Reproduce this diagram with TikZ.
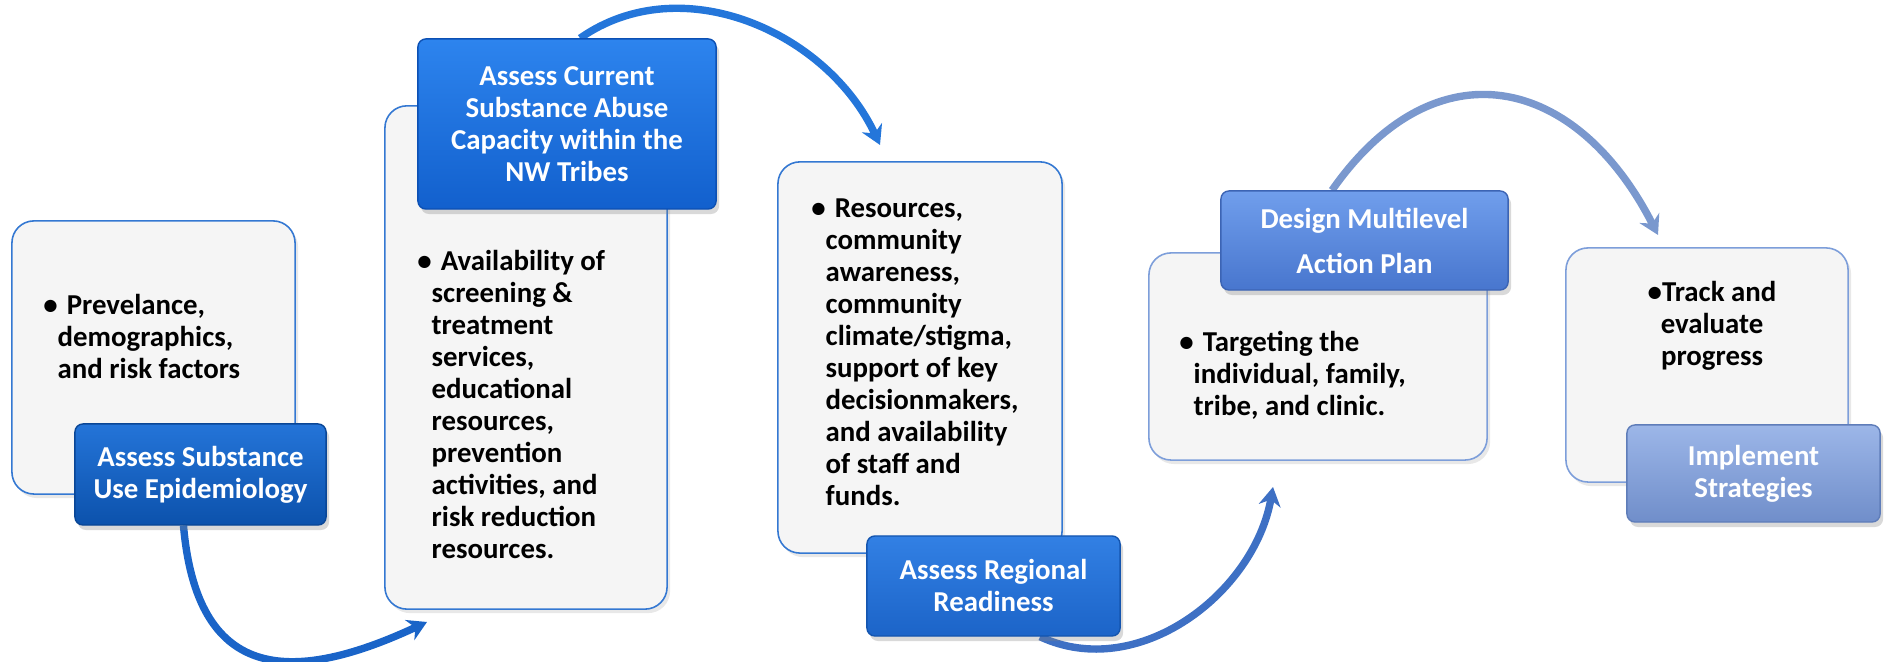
\documentclass[tikz,border=0pt]{standalone}
\usepackage{fontspec}
\setmainfont{Carlito}
\usepackage{tikz}
\usepackage{xcolor}
\usetikzlibrary{arrows.meta,shadows,backgrounds}

\definecolor{cardfill}{RGB}{245,245,245}
\definecolor{cardrim}{RGB}{52,120,210}
\definecolor{cardrimlt}{RGB}{125,158,218}
\definecolor{tagtopA}{RGB}{36,116,216}
\definecolor{tagbotA}{RGB}{12,82,172}
\definecolor{tagrimA}{RGB}{10,70,150}
\definecolor{tagtopB}{RGB}{45,132,238}
\definecolor{tagbotB}{RGB}{18,96,205}
\definecolor{tagrimB}{RGB}{12,80,180}
\definecolor{tagtopC}{RGB}{50,128,228}
\definecolor{tagbotC}{RGB}{28,100,200}
\definecolor{tagrimC}{RGB}{20,85,175}
\definecolor{tagtopD}{RGB}{112,158,236}
\definecolor{tagbotD}{RGB}{72,118,206}
\definecolor{tagrimD}{RGB}{60,100,180}
\definecolor{tagtopE}{RGB}{156,182,232}
\definecolor{tagbotE}{RGB}{112,142,202}
\definecolor{tagrimE}{RGB}{95,125,185}
\definecolor{arrowA}{RGB}{26,100,200}
\definecolor{arrowB}{RGB}{36,118,218}
\definecolor{arrowC}{RGB}{62,112,196}
\definecolor{arrowD}{RGB}{122,152,206}

\newcommand{\bul}{\llap{\textbullet}\kern2.6pt}

\begin{document}
\begin{tikzpicture}[x=0.01cm,y=0.01cm,
    card/.style={draw=cardrim,line width=0.45pt,fill=cardfill,rounded corners=0.22cm,
      drop shadow={opacity=0.18,shadow xshift=0.03cm,shadow yshift=-0.04cm}},
    tag/.style={rounded corners=0.08cm,line width=0.4pt,text=white,align=center,
      font=\fontsize{8.2}{9.1}\selectfont\bfseries,
      drop shadow={opacity=0.3,shadow xshift=0.03cm,shadow yshift=-0.05cm}},
    blurb/.style={inner sep=0pt,align=left,font=\fontsize{8.2}{9.1}\selectfont\bfseries},
    flow/.style={line width=2.1pt,-{Stealth[length=0.19cm,width=0.22cm]}}]
    \useasboundingbox (0,0) rectangle (1885,662);

    % Cards
    \node[card,minimum width=2.83cm,minimum height=2.73cm] (c1) at (153.5,304.5) {};
    \node[card,minimum width=2.82cm,minimum height=5.03cm] (c2) at (526,304.5) {};
    \node[card,minimum width=2.84cm,minimum height=3.91cm] (c3) at (920,304.5) {};
    \node[card,draw=cardrimlt,minimum width=3.38cm,minimum height=2.07cm] (c4) at (1318,305.5) {};
    \node[card,draw=cardrimlt,minimum width=2.82cm,minimum height=2.34cm] (c5) at (1707,297) {};

    % Card texts
    \node[blurb,anchor=north west] (t1) at (57,368)
        {\bul Prevelance,\\demographics,\\and risk factors};
    \node[blurb,anchor=north west] (t2) at (431,412)
        {\bul Availability of\\screening \&\\treatment\\services,\\educational\\resources,\\prevention\\activities, and\\risk reduction\\resources.};
    \node[blurb,anchor=north west] (t3) at (825,464)
        {\bul Resources,\\community\\awareness,\\community\\climate/stigma,\\support of key\\decisionmakers,\\and availability\\of staff and\\funds.};
    \node[blurb,anchor=north west] (t4) at (1193,331)
        {\bul Targeting the\\individual, family,\\tribe, and clinic.};
    \node[blurb,anchor=north,align=center] (t5) at (1712,381)
        {\textbullet Track and\\evaluate\\progress};

    % Step labels
    \node[tag,top color=tagtopA,bottom color=tagbotA,draw=tagrimA,
        minimum width=2.51cm,minimum height=1.01cm] (l1) at (200.5,187.5)
        {Assess Substance\\Use Epidemiology};
    \node[tag,top color=tagtopB,bottom color=tagbotB,draw=tagrimB,
        minimum width=2.98cm,minimum height=1.70cm] (l2) at (567,538)
        {Assess Current\\Substance Abuse\\Capacity within the\\NW Tribes};
    \node[tag,top color=tagtopC,bottom color=tagbotC,draw=tagrimC,
        minimum width=2.53cm,minimum height=1.00cm] (l3) at (993.5,76)
        {Assess Regional\\Readiness};
    \node[tag,top color=tagtopD,bottom color=tagbotD,draw=tagrimD,
        minimum width=2.87cm,minimum height=0.99cm] (l4) at (1364.5,421.5)
        {Design Multilevel\\[0.13cm]Action Plan};
    \node[tag,top color=tagtopE,bottom color=tagbotE,draw=tagrimE,
        minimum width=2.53cm,minimum height=0.97cm] (l5) at (1753.5,188.5)
        {Implement\\Strategies};

    % Arrow tips
    \coordinate (a1) at (427,40);
    \coordinate (a2) at (880,517);
    \coordinate (a3) at (1273,175);
    \coordinate (a4) at (1658,427);

    % Curved arrows, behind the labels
    \begin{pgfonlayer}{background}
    \draw[flow,color=arrowA] ([xshift=-0.17cm]l1.south) to[out=-85,in=205,looseness=1.5] (a1);
    \draw[flow,color=arrowB] ([xshift=0.13cm]l2.north) to[out=35,in=115] (a2);
    \draw[flow,color=arrowC] ([xshift=0.465cm]l3.south) to[out=-25,in=-100] (a3);
    \draw[flow,color=arrowD] ([xshift=-0.325cm]l4.north) to[out=55,in=117,looseness=1.4] (a4);
    \end{pgfonlayer}
\end{tikzpicture}
\end{document}
